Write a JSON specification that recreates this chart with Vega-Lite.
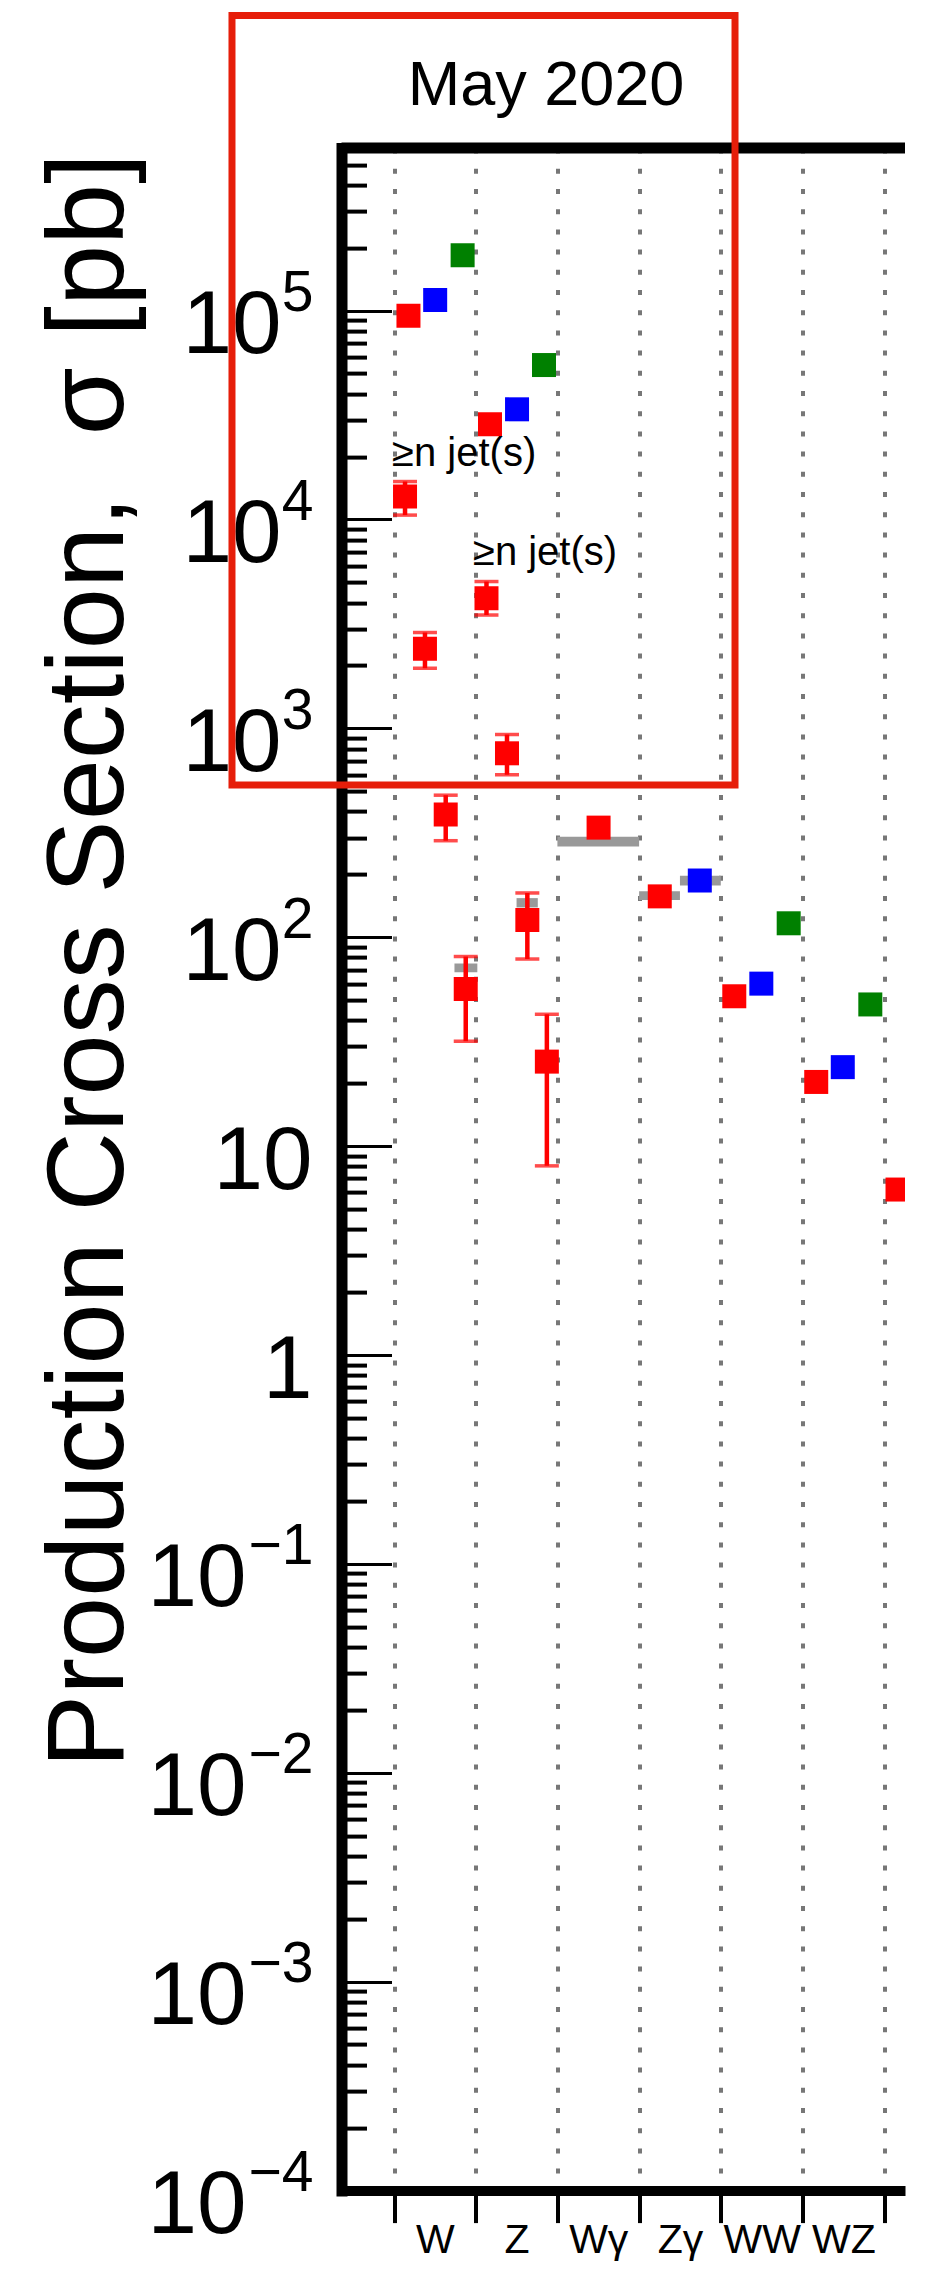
{
  "$schema": "https://vega.github.io/schema/vega-lite/v6.json",
  "width": 563.5,
  "height": 2042.5,
  "autosize": {"type": "none"},
  "padding": {"left": 341.5, "top": 148.1, "right": 42, "bottom": 85.4},
  "background": "white",
  "config": {"view": {"stroke": null}, "font": "Liberation Sans"},
  "datasets": {
    "points": [
      {"cat": "W", "series": "7 TeV", "x": 0.177, "y": 94600},
      {"cat": "W", "series": "8 TeV", "x": 0.504, "y": 112500},
      {"cat": "W", "series": "13 TeV", "x": 0.84, "y": 184000},
      {"cat": "Z", "series": "7 TeV", "x": 1.175, "y": 28600},
      {"cat": "Z", "series": "8 TeV", "x": 1.506, "y": 33700},
      {"cat": "Z", "series": "13 TeV", "x": 1.836, "y": 54900},
      {"cat": "W+>=1j", "series": "7 TeV", "x": 0.135, "y": 12900, "lo": 10500, "hi": 15200},
      {"cat": "W+>=2j", "series": "7 TeV", "x": 0.379, "y": 2404, "lo": 1941, "hi": 2878},
      {"cat": "W+>=3j", "series": "7 TeV", "x": 0.633, "y": 387, "lo": 290, "hi": 479},
      {"cat": "W+>=4j", "series": "7 TeV", "x": 0.878, "y": 56.6, "lo": 31.8, "hi": 80.9},
      {"cat": "Z+>=1j", "series": "7 TeV", "x": 1.132, "y": 4198, "lo": 3490, "hi": 5048},
      {"cat": "Z+>=2j", "series": "7 TeV", "x": 1.383, "y": 760, "lo": 600, "hi": 935},
      {"cat": "Z+>=3j", "series": "7 TeV", "x": 1.632, "y": 121, "lo": 78.7, "hi": 163},
      {"cat": "Z+>=4j", "series": "7 TeV", "x": 1.871, "y": 25.4, "lo": 8.05, "hi": 42.8},
      {"cat": "Wγ", "series": "7 TeV", "x": 2.504, "y": 335},
      {"cat": "Zγ", "series": "7 TeV", "x": 3.253, "y": 157},
      {"cat": "Zγ", "series": "8 TeV", "x": 3.743, "y": 187},
      {"cat": "WW", "series": "7 TeV", "x": 4.165, "y": 52.2},
      {"cat": "WW", "series": "8 TeV", "x": 4.496, "y": 60},
      {"cat": "WW", "series": "13 TeV", "x": 4.831, "y": 116.7},
      {"cat": "WZ", "series": "7 TeV", "x": 5.168, "y": 20.3},
      {"cat": "WZ", "series": "8 TeV", "x": 5.493, "y": 23.9},
      {"cat": "WZ", "series": "13 TeV", "x": 5.83, "y": 47.7},
      {"cat": "ZZ", "series": "7 TeV", "x": 6.163, "y": 6.2}
    ]
  },
  "resolve": {"axis": {"y": "independent"}, "scale": {"y": "shared"}},
  "layer": [
    {
      "data": {"values": [
        {"x1": 2.0, "x2": 3.0, "lo": 272, "hi": 303},
        {"x1": 3.0, "x2": 3.5, "lo": 151, "hi": 166},
        {"x1": 3.5, "x2": 4.0, "lo": 177, "hi": 197},
        {"x1": 0.74, "x2": 1.02, "lo": 68, "hi": 75},
        {"x1": 1.5, "x2": 1.76, "lo": 139, "hi": 154}
      ]},
      "mark": {"type": "rect", "color": "#999999"},
      "encoding": {
        "x": {"field": "x1", "type": "quantitative", "scale": {"domain": [-0.6426, 6.2546], "nice": false, "zero": false}},
        "x2": {"field": "x2"},
        "y": {"field": "lo", "type": "quantitative",
              "scale": {"type": "log", "domain": [0.0001, 600000], "nice": false},
              "axis": {
                "orient": "left",
                "values": [0.0002,0.0003,0.0004,0.0005,0.0006,0.0007,0.0008,0.0009,
                           0.002,0.003,0.004,0.005,0.006,0.007,0.008,0.009,
                           0.02,0.03,0.04,0.05,0.06,0.07,0.08,0.09,
                           0.2,0.3,0.4,0.5,0.6,0.7,0.8,0.9,
                           2,3,4,5,6,7,8,9,
                           20,30,40,50,60,70,80,90,
                           200,300,400,500,600,700,800,900,
                           2000,3000,4000,5000,6000,7000,8000,9000,
                           20000,30000,40000,50000,60000,70000,80000,90000,
                           200000,300000,400000,500000],
                "labels": false, "domain": false, "grid": false, "title": null,
                "ticks": true, "tickSize": -25, "tickWidth": 4, "tickColor": "black"
              }},
        "y2": {"field": "hi"}
      }
    },
    {
      "layer": [
        {
          "data": {"name": "points"},
          "mark": {"type": "point", "shape": "square", "filled": true, "size": 576, "opacity": 1, "strokeWidth": 0, "clip": true},
          "encoding": {
            "x": {"field": "x", "type": "quantitative",
                  "scale": {"domain": [-0.6426, 6.2546], "nice": false, "zero": false},
                  "axis": {
                    "orient": "bottom", "values": [0,1,2,3,4,5,6],
                    "labelExpr": "['W','Z','Wγ','Zγ','WW','WZ',''][datum.value]",
                    "labelOffset": 40.85, "labelFontSize": 41, "labelFont": "Liberation Sans", "labelColor": "black",
                    "labelAlign": "center", "labelBaseline": "alphabetic", "labelPadding": 30,
                    "labelFlush": false, "labelOverlap": false, "labelBound": false,
                    "ticks": true, "tickSize": 32, "tickWidth": 4, "tickColor": "black",
                    "domain": true, "domainWidth": 10, "domainColor": "black",
                    "grid": true, "gridColor": "#777777", "gridWidth": 4, "gridDash": [5, 15.2], "gridOpacity": 1,
                    "title": null
                  }},
            "y": {"field": "y", "type": "quantitative",
                  "scale": {"type": "log", "domain": [0.0001, 600000], "nice": false},
                  "axis": {
                    "orient": "left",
                    "values": [0.0001,0.001,0.01,0.1,1,10,100,1000,10000,100000],
                    "labelExpr": "datum.value > 5 && datum.value < 50 ? '10' : datum.value > 0.5 && datum.value < 5 ? '1' : '10'",
                    "labelFontSize": 89, "labelFont": "Liberation Sans", "labelColor": "black",
                    "labelAlign": "right", "labelBaseline": "alphabetic",
                    "labelPadding": {"condition": [
                      {"test": "datum.value > 0.5 && datum.value < 50", "value": 79.5},
                      {"test": "datum.value < 0.5", "value": 145.5}
                    ], "value": 110.5},
                    "labelOffset": 42,
                    "labelOverlap": false, "labelFlush": false, "labelBound": false,
                    "ticks": true, "tickSize": -50, "tickWidth": 3, "tickColor": "black",
                    "domain": true, "domainWidth": 11, "domainColor": "black", "domainCap": "square",
                    "grid": false,
                    "title": "Production Cross Section,\u00a0\u00a0σ [pb]",
                    "titleFontSize": 110, "titleFont": "Liberation Sans", "titleFontWeight": "normal", "titleColor": "black",
                    "titleAngle": -90, "titleAlign": "center", "titleBaseline": "alphabetic",
                    "titleX": -219.5, "titleY": 812
                  }},
            "color": {"field": "series", "type": "nominal",
                      "scale": {"domain": ["7 TeV", "8 TeV", "13 TeV"], "range": ["#ff0000", "#0000ff", "#008000"]},
                      "legend": null}
          }
        },
        {
          "data": {"name": "points"},
          "transform": [{"filter": "isValid(datum.lo)"}],
          "mark": {"type": "rule", "color": "#ff0000", "strokeWidth": 4.5},
          "encoding": {
            "x": {"field": "x", "type": "quantitative"},
            "y": {"field": "lo", "type": "quantitative"},
            "y2": {"field": "hi"}
          }
        },
        {
          "data": {"name": "points"},
          "transform": [{"filter": "isValid(datum.lo)"}],
          "mark": {"type": "tick", "orient": "horizontal", "color": "#ff0000", "size": 24, "thickness": 3.5},
          "encoding": {
            "x": {"field": "x", "type": "quantitative"},
            "y": {"field": "lo", "type": "quantitative"}
          }
        },
        {
          "data": {"name": "points"},
          "transform": [{"filter": "isValid(datum.lo)"}],
          "mark": {"type": "tick", "orient": "horizontal", "color": "#ff0000", "size": 24, "thickness": 3.5},
          "encoding": {
            "x": {"field": "x", "type": "quantitative"},
            "y": {"field": "hi", "type": "quantitative"}
          }
        },
        {
          "data": {"values": [
            {"x": -0.024, "y": 18000, "text": "≥n jet(s)"},
            {"x": 0.966, "y": 6070, "text": "≥n jet(s)"}
          ]},
          "mark": {"type": "text", "fontSize": 40, "align": "left", "baseline": "alphabetic", "font": "Liberation Sans", "color": "black"},
          "encoding": {
            "x": {"field": "x", "type": "quantitative"},
            "y": {"field": "y", "type": "quantitative"},
            "text": {"field": "text"}
          }
        },
        {
          "data": {"values": [{"x": 1.8605, "y": 965400, "text": "May 2020"}]},
          "mark": {"type": "text", "fontSize": 63, "align": "center", "baseline": "alphabetic", "font": "Liberation Sans", "color": "black"},
          "encoding": {
            "x": {"field": "x", "type": "quantitative"},
            "y": {"field": "y", "type": "quantitative"},
            "text": {"field": "text"}
          }
        }
      ]
    },
    {
      "layer": [
        {
          "data": {"values": [{"v": 600000}]},
          "mark": {"type": "rule", "color": "black", "strokeWidth": 11},
          "encoding": {
            "y": {"field": "v", "type": "quantitative",
                  "scale": {"type": "log", "domain": [0.0001, 600000], "nice": false},
                  "axis": {
                    "orient": "left",
                    "values": [0.0001,0.001,0.01,0.1,1,10,100,1000,10000,100000],
                    "labelExpr": "datum.value > 50000 ? '5' : datum.value > 5000 ? '4' : datum.value > 500 ? '3' : datum.value > 50 ? '2' : datum.value > 0.5 ? '' : datum.value > 0.05 ? '−1' : datum.value > 0.005 ? '−2' : datum.value > 0.0005 ? '−3' : '−4'",
                    "labelFontSize": 57, "labelFont": "Liberation Sans", "labelColor": "black",
                    "labelAlign": "right", "labelBaseline": "alphabetic", "labelPadding": 28.5, "labelOffset": 0,
                    "labelOverlap": false, "labelFlush": false, "labelBound": false,
                    "ticks": true, "tickSize": 0, "tickOpacity": 0,
                    "domain": false, "grid": false, "title": null
                  }}
          }
        },
        {
          "data": {"values": [{"x1": -1.983, "x2": 4.174, "y1": 536.6, "y2": 2588000}]},
          "mark": {"type": "rect", "fillOpacity": 0, "stroke": "#e61e0a", "strokeWidth": 7},
          "encoding": {
            "x": {"field": "x1", "type": "quantitative"},
            "x2": {"field": "x2"},
            "y": {"field": "y1", "type": "quantitative"},
            "y2": {"field": "y2"}
          }
        }
      ]
    }
  ]
}
